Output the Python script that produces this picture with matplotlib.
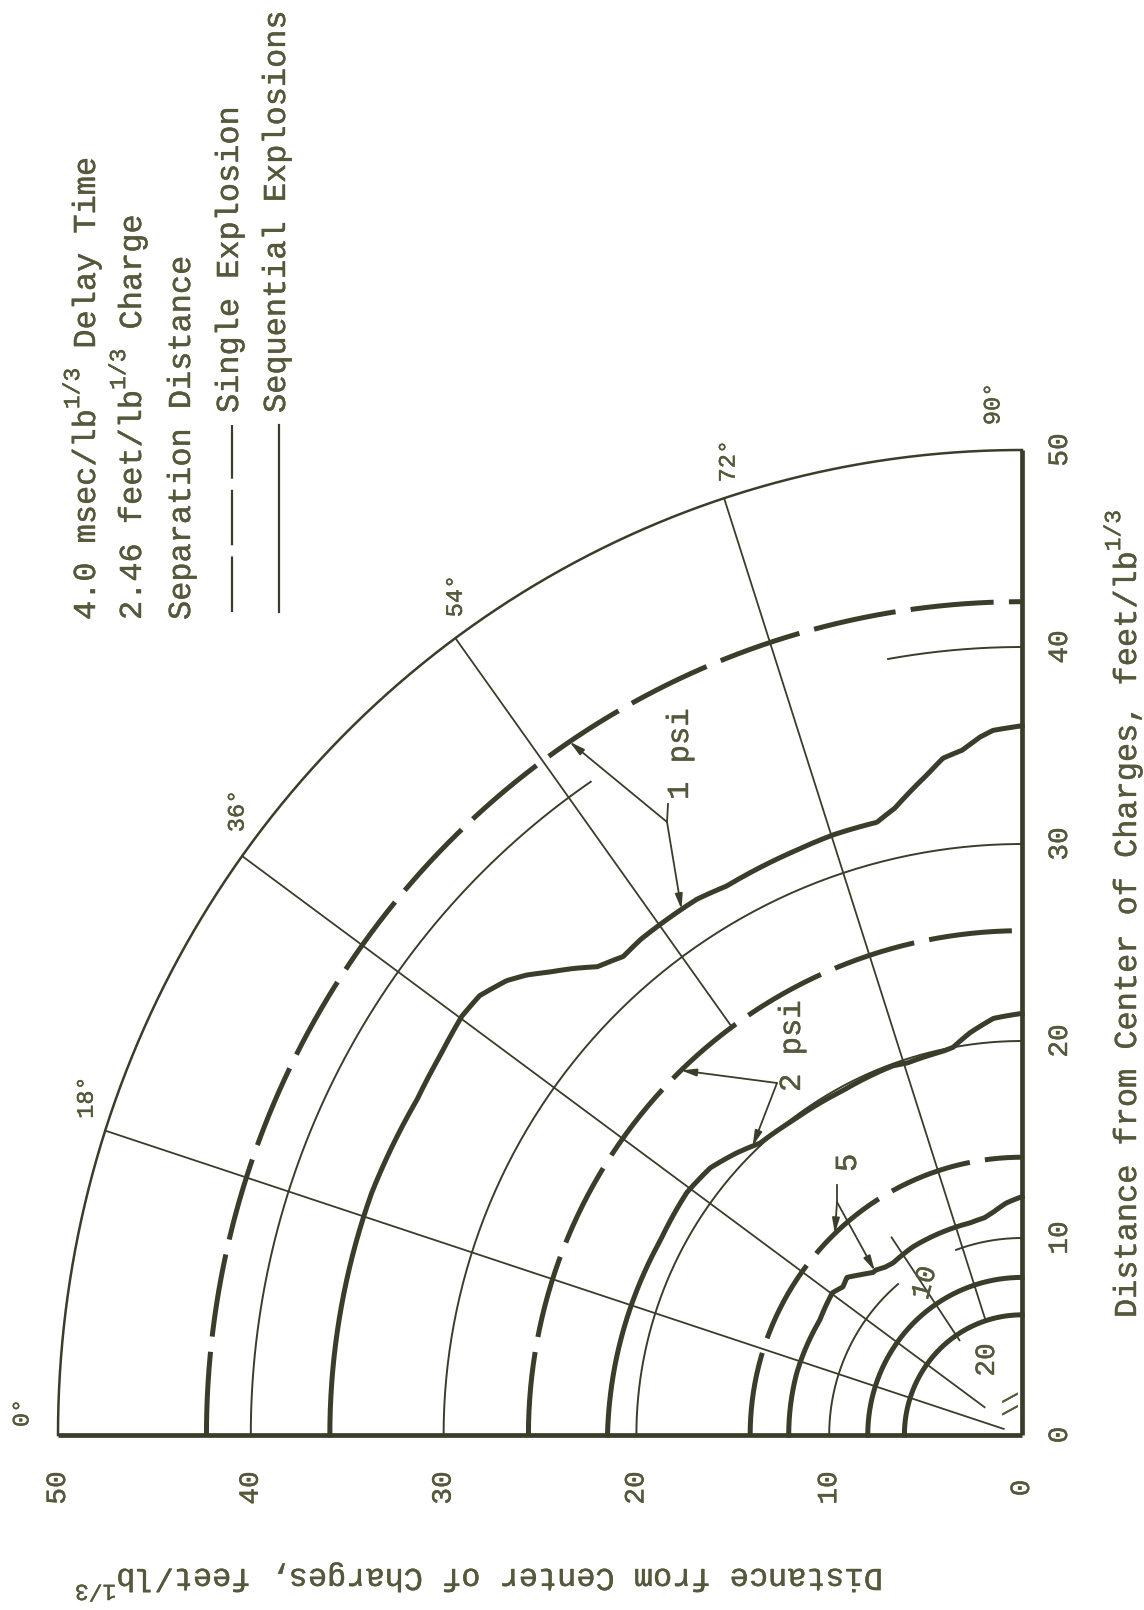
import numpy as np
import matplotlib
matplotlib.use('Agg')
import matplotlib.pyplot as plt
import matplotlib.patheffects as pe
from matplotlib.lines import Line2D

plt.rcParams['lines.scale_dashes'] = False

W, H = 1144, 1610
# charge centre on the page (px) and px per feet/lb^1/3 along each axis
X0, Y0, SX, SY = 1022, 1435, 19.28, 19.7

INK = '#3b3d2b'
TXT = '#55583a'
MONO = 'Liberation Mono'
HEAVY = [pe.withStroke(linewidth=0.3, foreground=TXT)]

# ---- data (distances in feet/lb^1/3, angles in degrees) ----
ticks = [0, 10, 20, 30, 40, 50]
ray_deg = [18, 36, 54, 72]
ray_start = [1.0, 2.4, 25.6, 6.2]
deg_labels = ['0°', '18°', '36°', '54°', '72°', '90°']

grid_r = [10, 20, 30, 40]
grid_spans = [[(0, 50), (70, 90)], [(0, 90)], [(0, 90)], [(0, 56), (80, 90)]]

# single explosion contours (circles)
single_psi = ['1', '2', '5']
single_r = [42.3, 25.6, 14.1]
# inner contours, single and sequential coincide
inner_psi = ['10', '20']
inner_r = [8.0, 6.1]

# sequential explosions contours
seq1_deg = [0, 10, 20, 28.5, 32.5, 36.2, 38.4, 40.8, 42.3, 43.7, 45.5, 47.2, 49.6, 51.8, 54.2, 58.2,
            61.2, 68.1, 72.2, 76.4, 78.3, 80, 81.7, 83.2, 84.9, 86.5, 87.6, 90]
seq1_r = [35.9, 35.9, 35.9, 35.7, 35.8, 36.0, 35.9, 35.3, 34.7, 34.0, 33.2, 32.4, 31.9, 32.0, 32.0, 32.0,
          31.8, 31.9, 32.0, 32.0, 32.5, 33.2, 33.9, 34.6, 34.9, 35.5, 35.8, 36.0]
seq2_deg = [0, 10, 18.8, 27.8, 35.3, 40, 44, 47.5, 53.4, 62, 70.3, 72.5, 78, 79.7, 82.5, 86, 90]
seq2_r = [21.5, 21.4, 21.3, 21.2, 21.3, 21.1, 20.6, 20.1, 19.9, 19.8, 19.9, 19.8, 19.9, 20.0, 20.6, 21.2, 21.4]
seq5_deg = [0, 15, 29, 36.3, 39, 41.4, 44, 46.9, 47.8, 50, 52.5, 59.4, 68.3, 76, 80, 82.4, 86, 90]
seq5_r = [12.1, 12.1, 12.0, 12.2, 11.95, 12.1, 11.7, 11.3, 11.3, 11.1, 11.0, 11.1, 11.1, 11.1, 11.2, 11.4, 11.8, 12.1]


def pol(r, deg):
    t = np.radians(deg)
    return np.asarray(r) * np.cos(t), np.asarray(r) * np.sin(t)


def arc(a0, a1, r):
    t = np.linspace(a0, a1, 200)
    return pol(np.full_like(t, r), t)


def polar_path(deg, r):
    # straight in (angle, radius), so segments follow the circles
    t = np.linspace(deg[0], deg[-1], 600)
    return pol(np.interp(t, deg, r), t)


def page(x, y):
    # page px -> figure fraction
    return x / W, 1 - y / H


def px_of(u, v):
    return X0 - SX * u, Y0 - SY * v


def label(x, y, s, size, rot=90, **kw):
    kw.setdefault('ha', 'center')
    kw.setdefault('va', 'center')
    fig.text(*page(x, y), s, rotation=rot, fontsize=size, family=MONO, color=TXT,
             path_effects=HEAVY, **kw)


fig = plt.figure(figsize=(W / 100, H / 100), dpi=100)
ax = fig.add_axes([0, 0, 1, 1])
ax.set_xlim(X0 / SX, (X0 - W) / SX)
ax.set_ylim((Y0 - H) / SY, Y0 / SY)
ax.axis('off')

# outer arc and rays
ax.plot(*arc(0, 90, 50), color=INK, lw=1.8)
for d, r0 in zip(ray_deg, ray_start):
    ax.plot(*pol([r0, 50], [d, d]), color=INK, lw=1.3)
# short leader through the 10 psi label
ax.plot(*pol([5.8, 12.1], [56, 56]), color=INK, lw=1.3)

# thin range circles
for r, spans in zip(grid_r, grid_spans):
    for a0, a1 in spans:
        ax.plot(*arc(a0, a1, r), color=INK, lw=1.4)

# single explosion, dashed
for r in single_r:
    ax.plot(*arc(0, 90, r), color=INK, lw=3.6, linestyle=(0, (60, 11)), solid_capstyle='butt')
for r in inner_r:
    ax.plot(*arc(0, 90, r), color=INK, lw=3.6)

# sequential explosions, solid
for dg, rr in [(seq1_deg, seq1_r), (seq2_deg, seq2_r), (seq5_deg, seq5_r)]:
    ax.plot(*polar_path(dg, rr), color=INK, lw=3.6, solid_joinstyle='round')

# axes lines
ax.plot([0, 50], [0, 0], color=INK, lw=3.4, solid_capstyle='butt')
ax.plot([0, 0], [0, 50], color=INK, lw=3.4, solid_capstyle='butt')


def vtext(x, y, parts, size, rot=90):
    # monospace run of text with raised parts, laid along the rotated baseline
    pos = 0.0
    for s, sup in parts:
        fs = size * 0.72 if sup else size
        shift = 0.45 * size * 100 / 72 if sup else 0.0
        if rot == 90:
            xx, yy = x - shift, y - pos
        else:
            xx, yy = x - pos, y + shift
        label(xx, yy, s, fs, rot=rot, rotation_mode='anchor', ha='left')
        pos += len(s) * 0.6 * fs * 100 / 72


# tick labels
for t in ticks:
    x, _ = px_of(t, 0)
    label(x, 1488, str(t), 20)
    _, y = px_of(0, t)
    label(1060, y, str(t), 20)

# angle labels
deg_off = [(-36, -22), (-19, -33), (-5, -45), (0, -42), (4, -37), (-29, -46)]
for lab, d, (ox, oy) in zip(deg_labels, [0] + ray_deg + [90], deg_off):
    x, y = px_of(*pol(50, d))
    label(x + ox, y + oy, lab, 17)

# axis titles
sup = '1/3'
vtext(1128, 1318, [('Distance from Center of Charges, feet/lb', False), (sup, True)], 23)
vtext(883, 1577, [('Distance from Center of Charges, feet/lb', False), (sup, True)], 23, rot=180)

# legend block
vtext(87, 620, [('4.0 msec/lb', False), (sup, True), (' Delay Time', False)], 23)
vtext(133, 620, [('2.46 feet/lb', False), (sup, True), (' Charge', False)], 23)
vtext(182, 620, [('Separation Distance', False)], 23)
vtext(230, 413, [('Single Explosion', False)], 23)
vtext(277, 413, [('Sequential Explosions', False)], 23)
fig.add_artist(Line2D([232 / W, 232 / W], [1 - 612 / H, 1 - 425 / H], color=INK, lw=1.6,
                      linestyle=(0, (40, 8)), transform=fig.transFigure))
fig.add_artist(Line2D([279 / W, 279 / W], [1 - 612 / H, 1 - 425 / H], color=INK, lw=1.6,
                      transform=fig.transFigure))


# pressure labels with leaders
def leader(text_xy, text, size, branch, tips, stub=None):
    label(*text_xy, text, size, rotation_mode='anchor', ha='left')
    bu = (X0 - branch[0]) / SX
    bv = (Y0 - branch[1]) / SY
    if stub is not None:
        ax.plot([bu, (X0 - stub[0]) / SX], [bv, (Y0 - stub[1]) / SY], color=INK, lw=1.3)
    for tu, tv in tips:
        ax.annotate('', xy=(tu, tv), xytext=(bu, bv),
                    arrowprops=dict(arrowstyle='-|>,head_length=0.9,head_width=0.22',
                                    color=INK, lw=1.3, shrinkA=0, shrinkB=0))


leader((680, 800), '1 psi', 22, (667, 822),
       [pol(single_r[0], 56.3), pol(np.interp(56.5, seq1_deg, seq1_r), 56.5)], stub=(668, 804))
leader((792, 1092), '2 psi', 22, (777, 1083),
       [pol(single_r[1], 46.3), pol(np.interp(46.4, seq2_deg, seq2_r), 46.4)])
leader((848, 1172), single_psi[2], 22, (837, 1202),
       [pol(single_r[2], 46.5), pol(np.interp(47.5, seq5_deg, seq5_r), 47.5)], stub=(837, 1185))

label(925, 1283, inner_psi[0], 20, rot=75)
label(987, 1360, inner_psi[1], 20)
label(1012, 1404, '\\\\', 15)

fig.savefig('out.png', dpi=100, facecolor='white')
